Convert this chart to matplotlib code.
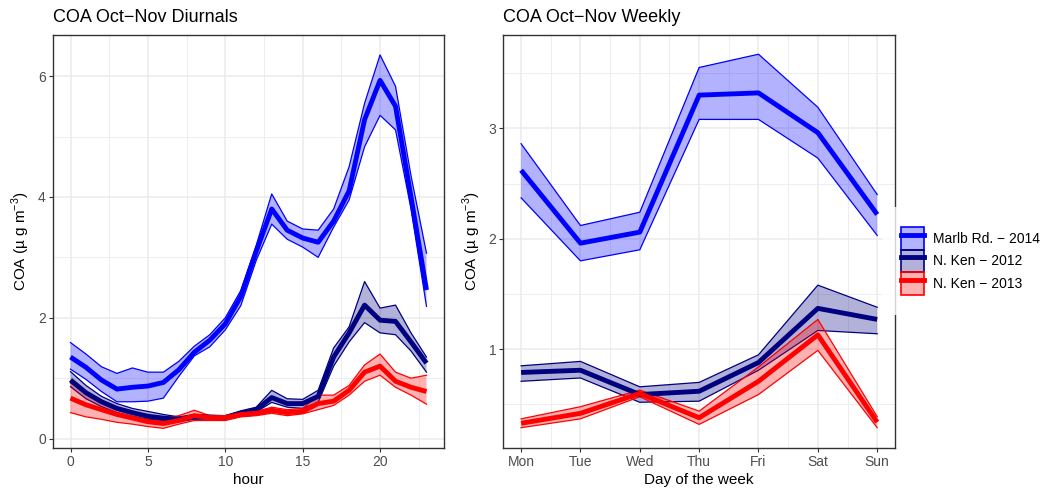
import numpy as np
import matplotlib
matplotlib.use("Agg")
import matplotlib.pyplot as plt
from matplotlib.patches import Patch
from matplotlib.lines import Line2D

plt.rcParams['font.family'] = ['Liberation Sans', 'DejaVu Sans']
plt.rcParams['mathtext.fontset'] = 'custom'
plt.rcParams['mathtext.rm'] = 'Liberation Sans'

# --- data ---
hours = np.arange(24)

marlb_mean = [1.35, 1.18, 0.97, 0.82, 0.85, 0.87, 0.93, 1.14, 1.43, 1.63, 1.90, 2.35,
              3.10, 3.80, 3.45, 3.32, 3.25, 3.60, 4.10, 5.28, 5.93, 5.50, 4.00, 2.46]
marlb_lo = [1.15, 0.98, 0.78, 0.61, 0.61, 0.62, 0.67, 1.03, 1.37, 1.52, 1.80, 2.20,
            2.95, 3.55, 3.30, 3.17, 3.00, 3.50, 3.95, 4.83, 5.35, 5.11, 3.80, 2.19]
marlb_hi = [1.59, 1.40, 1.19, 1.08, 1.17, 1.10, 1.10, 1.28, 1.53, 1.72, 2.00, 2.45,
            3.20, 4.05, 3.60, 3.47, 3.45, 3.80, 4.50, 5.55, 6.35, 5.83, 4.35, 3.07]

ken12_mean = [0.97, 0.76, 0.61, 0.50, 0.43, 0.37, 0.34, 0.32, 0.36, 0.36, 0.35, 0.42,
              0.48, 0.68, 0.58, 0.58, 0.70, 1.35, 1.75, 2.21, 1.96, 1.94, 1.60, 1.25]
ken12_lo = [0.86, 0.66, 0.53, 0.43, 0.37, 0.32, 0.30, 0.28, 0.32, 0.33, 0.33, 0.38,
            0.44, 0.60, 0.52, 0.50, 0.60, 1.20, 1.60, 1.92, 1.75, 1.72, 1.45, 1.10]
ken12_hi = [1.11, 0.88, 0.70, 0.58, 0.50, 0.45, 0.40, 0.36, 0.40, 0.38, 0.38, 0.46,
            0.52, 0.80, 0.66, 0.65, 0.80, 1.50, 1.85, 2.60, 2.16, 2.21, 1.75, 1.35]

ken13_mean = [0.67, 0.56, 0.48, 0.40, 0.34, 0.28, 0.25, 0.30, 0.38, 0.35, 0.35, 0.40,
              0.42, 0.47, 0.43, 0.45, 0.58, 0.62, 0.80, 1.10, 1.20, 0.95, 0.85, 0.78]
ken13_lo = [0.43, 0.36, 0.32, 0.27, 0.24, 0.20, 0.17, 0.24, 0.30, 0.30, 0.30, 0.36,
            0.38, 0.42, 0.38, 0.41, 0.48, 0.55, 0.72, 0.95, 1.05, 0.85, 0.72, 0.57]
ken13_hi = [0.92, 0.78, 0.64, 0.52, 0.45, 0.36, 0.33, 0.38, 0.47, 0.38, 0.38, 0.43,
            0.45, 0.52, 0.48, 0.50, 0.72, 0.72, 0.88, 1.22, 1.40, 1.10, 1.00, 1.05]

days = ["Mon", "Tue", "Wed", "Thu", "Fri", "Sat", "Sun"]
wk_marlb_mean = [2.62, 1.96, 2.06, 3.30, 3.32, 2.96, 2.22]
wk_marlb_lo = [2.37, 1.80, 1.90, 3.08, 3.08, 2.73, 2.03]
wk_marlb_hi = [2.86, 2.12, 2.24, 3.55, 3.67, 3.19, 2.40]
wk_ken12_mean = [0.79, 0.81, 0.59, 0.62, 0.88, 1.37, 1.27]
wk_ken12_lo = [0.71, 0.74, 0.52, 0.53, 0.81, 1.17, 1.14]
wk_ken12_hi = [0.85, 0.89, 0.66, 0.70, 0.95, 1.58, 1.38]
wk_ken13_mean = [0.33, 0.42, 0.60, 0.38, 0.71, 1.13, 0.34]
wk_ken13_lo = [0.29, 0.37, 0.57, 0.32, 0.59, 0.99, 0.29]
wk_ken13_hi = [0.37, 0.48, 0.63, 0.44, 0.84, 1.27, 0.39]

labels = ["Marlb Rd. \u2212 2014", "N. Ken \u2212 2012", "N. Ken \u2212 2013"]
colors = ["#0000FF", "#000080", "#FF0000"]

W, H = 1048, 490
fig = plt.figure(figsize=(W / 100, H / 100), dpi=100)
ax1 = fig.add_axes([52.7 / W, 1 - 447.7 / H, 391.6 / W, 412.7 / H])
ax2 = fig.add_axes([503.3 / W, 1 - 447.7 / H, 391.7 / W, 412.7 / H])

ylab = "COA (\u00b5 g m$^{-3}$)"


def style(ax):
    ax.set_facecolor("white")
    for s in ax.spines.values():
        s.set_color("#333333")
        s.set_linewidth(1.0)
    ax.grid(True, which="major", color="#ebebeb", lw=1.1, zorder=0)
    ax.grid(True, which="minor", color="#ebebeb", lw=0.6, zorder=0)
    ax.set_axisbelow(True)
    ax.tick_params(which="major", length=3, width=0.8, color="#333333",
                   labelcolor="#4d4d4d", labelsize=10, pad=2)
    ax.tick_params(which="minor", length=0)


def draw(ax, x, series):
    for (m, lo, hi), c in zip(series, colors):
        ax.fill_between(x, lo, hi, facecolor=c, alpha=0.3, lw=0, zorder=2)
        ax.plot(x, lo, color=c, lw=0.9, zorder=2)
        ax.plot(x, hi, color=c, lw=0.9, zorder=2)
    for (m, lo, hi), c in zip(series, colors):
        ax.plot(x, m, color=c, lw=3.5, zorder=3, solid_capstyle="butt")


draw(ax1, hours, [(marlb_mean, marlb_lo, marlb_hi),
                  (ken12_mean, ken12_lo, ken12_hi),
                  (ken13_mean, ken13_lo, ken13_hi)])
style(ax1)
ax1.set_xlim(-1.15, 24.15)
ax1.set_ylim(-0.15, 6.68)
ax1.set_xticks([0, 5, 10, 15, 20])
ax1.set_xticks([2.5, 7.5, 12.5, 17.5, 22.5], minor=True)
ax1.set_yticks([0, 2, 4, 6])
ax1.set_yticks([1, 3, 5], minor=True)
ax1.set_xlabel("hour", fontsize=11, labelpad=3)
ax1.set_ylabel(ylab, fontsize=11, labelpad=4)
ax1.set_title("COA Oct\u2212Nov Diurnals", fontsize=13, loc="left", pad=9)

xd = np.arange(len(days))
draw(ax2, xd, [(wk_marlb_mean, wk_marlb_lo, wk_marlb_hi),
               (wk_ken12_mean, wk_ken12_lo, wk_ken12_hi),
               (wk_ken13_mean, wk_ken13_lo, wk_ken13_hi)])
style(ax2)
ax2.set_xlim(-0.3, 6.3)
ax2.set_ylim(0.109, 3.844)
ax2.set_xticks(xd)
ax2.set_xticklabels(days)
ax2.set_xticks(xd[:-1] + 0.5, minor=True)
ax2.set_yticks([1, 2, 3])
ax2.set_yticks([0.5, 1.5, 2.5, 3.5], minor=True)
ax2.set_xlabel("Day of the week", fontsize=11, labelpad=3)
ax2.set_ylabel(ylab, fontsize=11, labelpad=4)
ax2.set_title("COA Oct\u2212Nov Weekly", fontsize=13, loc="left", pad=9)

handles = [(Patch(facecolor=c, alpha=0.3, edgecolor="none"),
            Patch(facecolor="none", edgecolor=c, lw=1.2),
            Line2D([], [], color=c, lw=3.5)) for c in colors]
leg = fig.legend(handles, labels, loc="center left",
                 bbox_to_anchor=(882 / W, 1 - 261 / H), fontsize=10,
                 frameon=True, fancybox=False, borderpad=1.4, borderaxespad=0,
                 labelspacing=0.0, handlelength=1.6, handleheight=2.15,
                 handletextpad=0.7)
leg.get_frame().set_facecolor("white")
leg.get_frame().set_edgecolor("none")

fig.savefig("out.png", dpi=100)
